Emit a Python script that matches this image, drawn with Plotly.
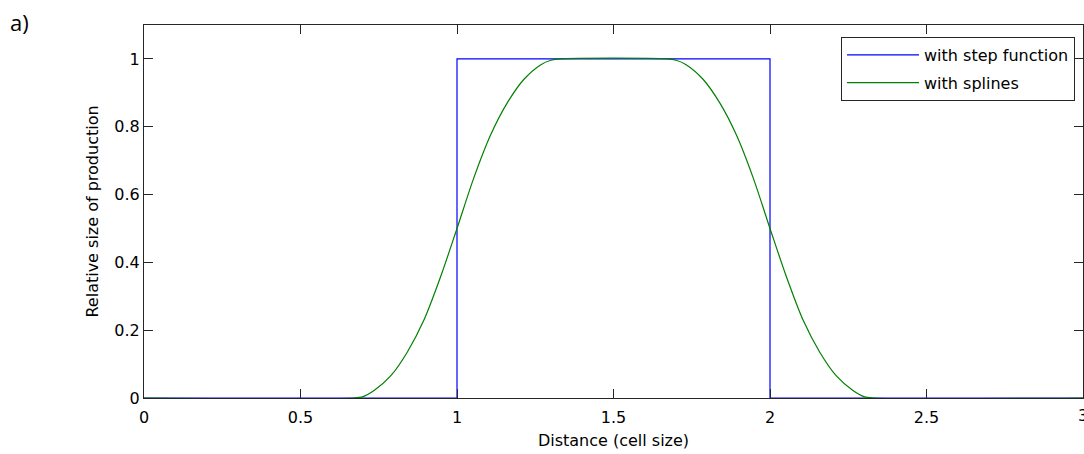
import plotly.graph_objects as go

# Step function
step_x = [0, 1, 1, 2, 2, 3]
step_y = [0, 0, 1, 1, 0, 0]

# Spline curve
spline_x = [0, 0.670, 0.700, 0.735, 0.788, 0.841, 0.894, 0.947, 1.000,
            1.054, 1.108, 1.161, 1.214, 1.268, 1.300, 1.330,
            1.670, 1.700, 1.732, 1.786, 1.839, 1.892, 1.946, 2.000,
            2.053, 2.106, 2.159, 2.212, 2.265, 2.300, 2.330, 3]
spline_y = [0, 0, 0.004, 0.022, 0.065, 0.135, 0.229, 0.356, 0.500,
            0.650, 0.777, 0.871, 0.940, 0.983, 0.996, 1.0,
            1.0, 0.996, 0.983, 0.940, 0.871, 0.777, 0.650, 0.500,
            0.356, 0.229, 0.135, 0.065, 0.022, 0.004, 0, 0]

x_ticks = [0, 0.5, 1, 1.5, 2, 2.5, 3]
x_tick_labels = ["0", "0.5", "1", "1.5", "2", "2.5", "3"]
y_ticks = [0, 0.2, 0.4, 0.6, 0.8, 1]
y_tick_labels = ["0", "0.2", "0.4", "0.6", "0.8", "1"]

FONT = "DejaVu Sans"
AX = "#262626"

fig = go.Figure()
fig.add_trace(go.Scatter(x=step_x, y=step_y, mode="lines",
                         name="with step function", legendgroup="a",
                         line=dict(color="#0000FF", width=1.2)))
fig.add_trace(go.Scatter(x=spline_x, y=spline_y, mode="lines",
                         name="with splines", legendgroup="b",
                         line_shape="spline",
                         line=dict(color="#008000", width=1.2, smoothing=0.8)))

axis_common = dict(showline=True, linecolor=AX, linewidth=1,
                   mirror="ticks", ticks="inside", ticklen=9,
                   tickcolor=AX, tickwidth=1, showgrid=False,
                   zeroline=False,
                   tickfont=dict(family=FONT, size=16, color="#000"))

fig.update_xaxes(range=[0, 3], tickvals=x_ticks, ticktext=x_tick_labels,
                 ticklabelstandoff=5,
                 title=dict(text="Distance (cell size)",
                            font=dict(family=FONT, size=16, color="#000"),
                            standoff=8),
                 **axis_common)
fig.update_yaxes(range=[0, 1.1], tickvals=y_ticks, ticktext=y_tick_labels,
                 title=dict(text="Relative size of production",
                            font=dict(family=FONT, size=16, color="#000"),
                            standoff=11),
                 **axis_common)

fig.update_layout(
    width=1084, height=454,
    margin=dict(l=144, r=1, t=25, b=56),
    paper_bgcolor="white", plot_bgcolor="white",
    font=dict(family=FONT, size=16, color="#000"),
    legend=dict(x=0.9915, y=0.968, xanchor="right", yanchor="top",
                bgcolor="white", bordercolor=AX, borderwidth=1,
                font=dict(family=FONT, size=16, color="#000"),
                tracegroupgap=4, itemwidth=72),
    annotations=[
        dict(text="a)", x=-136/939, y=1 + 3/373, xref="paper", yref="paper",
             showarrow=False, xanchor="left", yanchor="middle",
             font=dict(family="Open Sans", size=22, color="#000")),
        dict(text=x_tick_labels[-1], x=x_ticks[-1], y=0, xref="x", yref="paper",
             yshift=-17, showarrow=False, xanchor="center", yanchor="middle",
             font=dict(family=FONT, size=16, color="#000")),
    ],
)

fig.write_html("out.html")
